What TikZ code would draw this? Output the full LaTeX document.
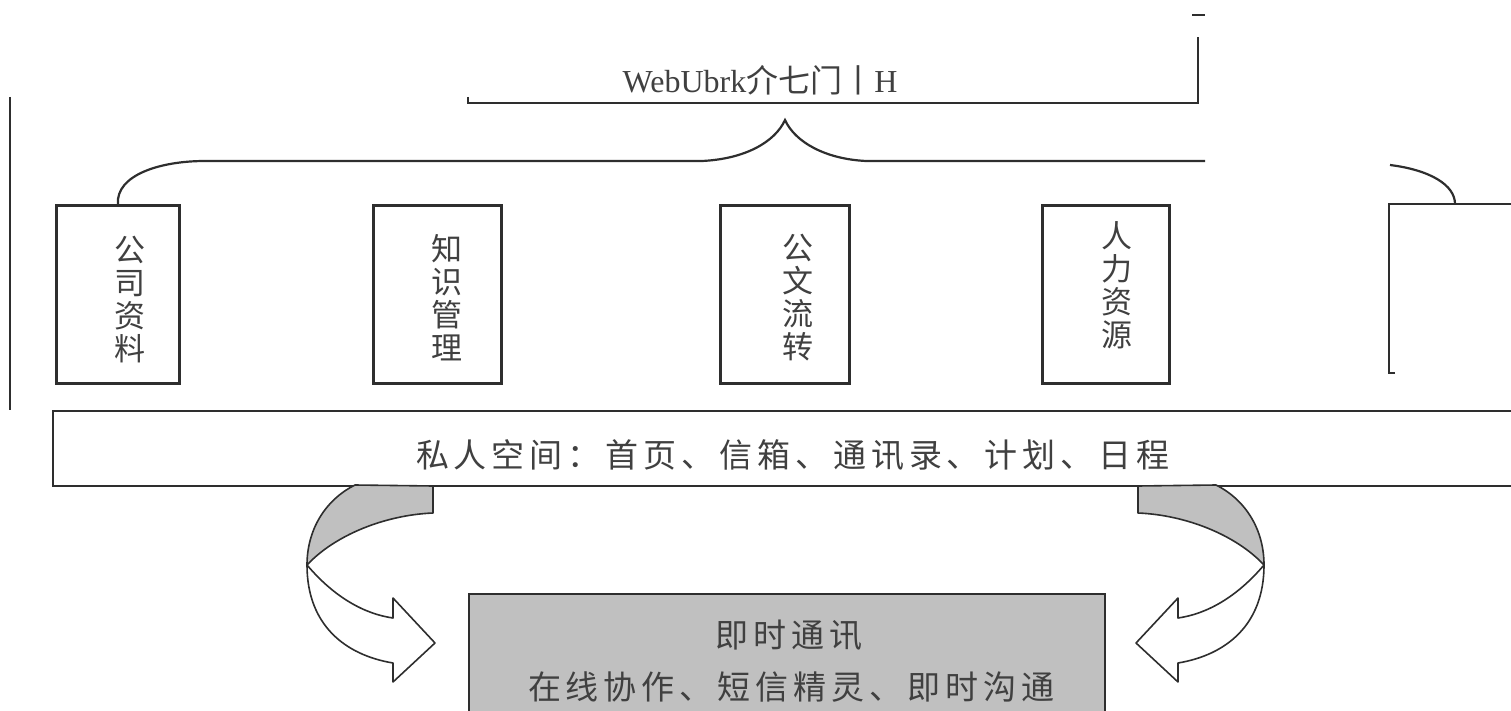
\documentclass[tikz,border=0pt]{standalone}
\usepackage{fontspec}
\setmainfont{Liberation Serif}
\newfontfamily\cjk{Noto Sans CJK SC}
\definecolor{ink}{HTML}{2E2E2E}
\definecolor{txt}{HTML}{404040}
\definecolor{fillg}{HTML}{C0C0C0}
\begin{document}
\begin{tikzpicture}[x=1pt,y=-1pt,
  ln/.style={draw=ink,line width=2.4pt},
  boxs/.style={draw=ink,line width=2.8pt,minimum height=178pt,inner sep=0pt,anchor=north west},
  vtext/.style={text=txt,font=\cjk\fontsize{31}{33}\selectfont,align=center,inner sep=0pt},
  arr/.style={draw=ink,line width=1.6pt,line join=round}]
\useasboundingbox (0,0) rectangle (1511,711);
\clip (0,0) rectangle (1511,711);
% left vertical line
\draw[draw=ink,line width=1.6pt] (10,97) -- (10,410);
% title bracket
\node[text=txt,font=\fontsize{32}{36}\selectfont,inner sep=0pt] (title) at (760,80) {WebUbrk{\cjk 介七门丨}H};
\coordinate (brL) at (468,97);
\coordinate (brR) at (1198,37);
\draw[ln] (brL) -- (468,103) -- (1198,103) -- (brR);
\draw[draw=ink,line width=1.2pt] (1192,15) -- (1205,15);
% boxes
\node[boxs,minimum width=123pt] (b1) at (55,204) {};
\node[boxs,minimum width=128pt] (b2) at (372,204) {};
\node[boxs,minimum width=129pt] (b3) at (719,204) {};
\node[boxs,minimum width=127pt] (b4) at (1041,204) {};
\coordinate (b5bl) at (1389,373);
\draw[ln] (1395,373) -- (b5bl) -- (1389,204) -- (1520,204);
\node[vtext] (t1) at (130,300) {公\\司\\资\\料};
\node[vtext] (t2) at (447,298) {知\\识\\管\\理};
\node[vtext] (t3) at (798,298) {公\\文\\流\\转};
\node[vtext] (t4) at (1117,285) {人\\力\\资\\源};
% brace
\coordinate (peak) at (785,120);
\coordinate (braceR) at (1205,161);
\draw[draw=ink,line width=2.2pt] (b1.north) .. controls (116,175) and (160,161) .. (205,161) -- (702,161)
  .. controls (745,159) and (775,142) .. (peak) .. controls (795,142) and (825,159) .. (866,161) -- (braceR);
\coordinate (arcS) at (1390,165);
\draw[draw=ink,line width=2.2pt] (arcS) .. controls (1430,170) and (1455,185) .. (1455,204);
% private space bar
\node[draw=ink,line width=2.2pt,anchor=north west,minimum width=1500pt,minimum height=75pt,inner sep=0pt] (bar) at (52,410) {};
\node[text=txt,font=\cjk\fontsize{33}{36}\selectfont,inner sep=0pt] (bart) at (790,455)
  {\makebox[748pt][s]{私 人 空 间 ： 首 页 、 信 箱 、 通 讯 录 、 计 划 、 日 程}};
% instant messaging box
\node[draw=ink,line width=2.4pt,fill=fillg,anchor=north west,minimum width=636pt,minimum height=150pt,inner sep=0pt] (im) at (468,593) {};
\node[text=txt,font=\cjk\fontsize{33}{36}\selectfont,inner sep=0pt] (im1) at (789,635)
  {\makebox[147pt][s]{即 时 通 讯}};
\node[text=txt,font=\cjk\fontsize{33}{36}\selectfont,inner sep=0pt] (im2) at (788,687)
  {\makebox[520pt][s]{在 线 协 作 、 短 信 精 灵 、 即 时 沟 通}};
% curved arrows
\foreach \s/\sc in {0/1,1571/-1}{
\begin{scope}[xshift=\s pt,xscale=\sc]
\path[arr,fill=fillg] (355,485) .. controls (325,500) and (307,530) .. (307,565)
   .. controls (335,535) and (385,515) .. (433,513) -- (433,486) -- cycle;
\path[arr,fill=white] (307,565) .. controls (335,598) and (365,614) .. (393,618) -- (393,598)
   -- (435,643) -- (393,682) -- (393,663) .. controls (345,655) and (307,625) .. (307,565) -- cycle;
\end{scope}}
\end{tikzpicture}
\end{document}
